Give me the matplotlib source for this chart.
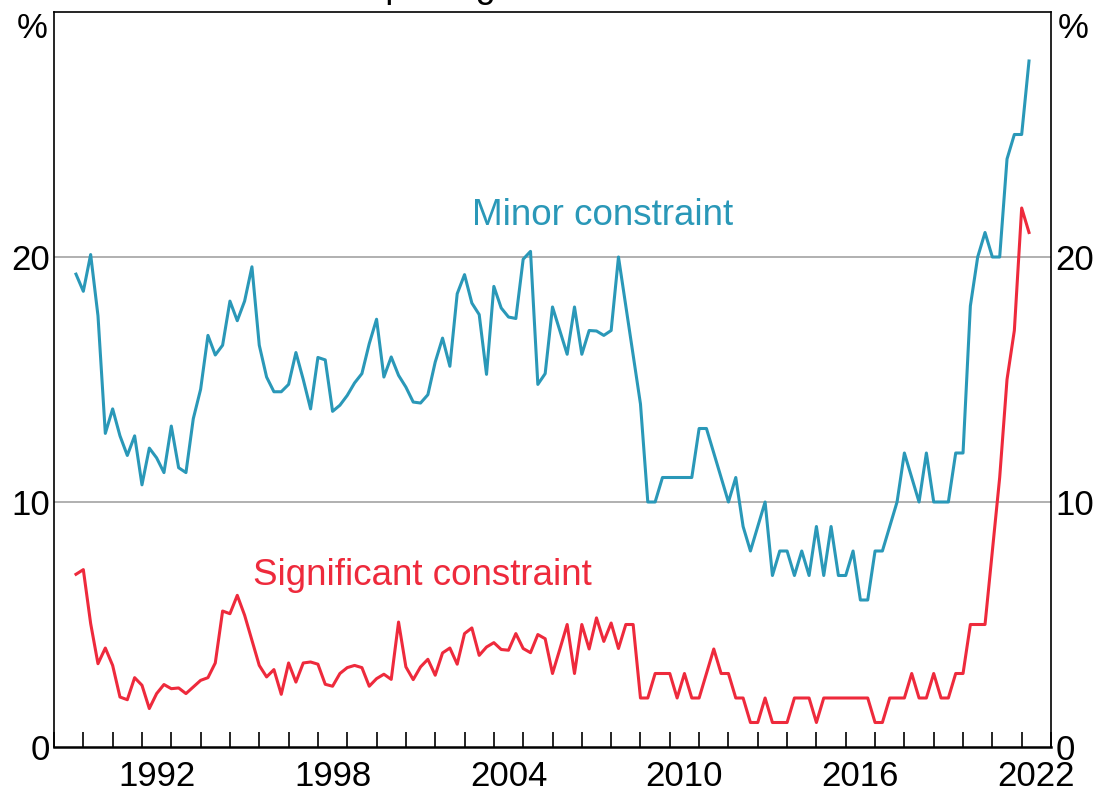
import matplotlib
matplotlib.use("Agg")
import matplotlib.pyplot as plt
import numpy as np

plt.rcParams['font.family'] = ['Liberation Sans', 'DejaVu Sans']

# quarterly observations, first one is Sep quarter 1989
start_year = 1989.75
minor = [19.3, 18.6, 20.1, 17.6, 12.8, 13.8, 12.7, 11.9, 12.7, 10.7,
         12.2, 11.8, 11.2, 13.1, 11.4, 11.2, 13.4, 14.6, 16.8, 16.0,
         16.4, 18.2, 17.4, 18.2, 19.6, 16.4, 15.1, 14.5, 14.5, 14.8,
         16.1, 15.0, 13.8, 15.9, 15.8, 13.7, 13.95, 14.35, 14.86, 15.24,
         16.46, 17.46, 15.1, 15.92, 15.17, 14.69, 14.08, 14.04, 14.38, 15.71,
         16.69, 15.54, 18.5, 19.28, 18.12, 17.65, 15.21, 18.8, 17.92, 17.55,
         17.49, 19.91, 20.23, 14.8, 15.24, 17.96, 17.0, 16.03, 17.96, 16.03,
         17.0, 16.98, 16.8, 17.0, 20.0, 18.0, 16.0, 14.0, 10.0, 10.0,
         11.0, 11.0, 11.0, 11.0, 11.0, 13.0, 13.0, 12.0, 11.0, 10.0,
         11.0, 9.0, 8.0, 9.0, 10.0, 7.0, 8.0, 8.0, 7.0, 8.0,
         7.0, 9.0, 7.0, 9.0, 7.0, 7.0, 8.0, 6.0, 6.0, 8.0,
         8.0, 9.0, 10.0, 12.0, 11.0, 10.0, 12.0, 10.0, 10.0, 10.0,
         12.0, 12.0, 18.0, 20.0, 21.0, 20.0, 20.0, 24.0, 25.0, 25.0,
         28.0]
significant = [7.05, 7.24, 5.04, 3.4, 4.04, 3.33, 2.04, 1.93, 2.83, 2.52,
               1.57, 2.18, 2.55, 2.38, 2.41, 2.18, 2.45, 2.72, 2.83, 3.43,
               5.55, 5.44, 6.19, 5.38, 4.36, 3.33, 2.86, 3.16, 2.15, 3.43,
               2.65, 3.43, 3.47, 3.38, 2.56, 2.48, 3.0, 3.24, 3.33, 3.24,
               2.48, 2.79, 2.97, 2.76, 5.1, 3.27, 2.75, 3.27, 3.58, 2.93,
               3.84, 4.04, 3.38, 4.63, 4.86, 3.74, 4.08, 4.26, 3.98, 3.95,
               4.63, 4.02, 3.85, 4.59, 4.42, 3.0, 3.99, 5.0, 3.0, 5.0,
               4.0, 5.27, 4.31, 5.06, 4.02, 5.0, 5.0, 2.0, 2.0, 3.0,
               3.0, 3.0, 2.0, 3.0, 2.0, 2.0, 3.0, 4.0, 3.0, 3.0,
               2.0, 2.0, 1.0, 1.0, 2.0, 1.0, 1.0, 1.0, 2.0, 2.0,
               2.0, 1.0, 2.0, 2.0, 2.0, 2.0, 2.0, 2.0, 2.0, 1.0,
               1.0, 2.0, 2.0, 2.0, 3.0, 2.0, 2.0, 3.0, 2.0, 2.0,
               3.0, 3.0, 5.0, 5.0, 5.0, 8.0, 11.0, 15.0, 17.0, 22.0,
               21.0]
year_labels = [1992, 1998, 2004, 2010, 2016, 2022]

dates = start_year + 0.25 * np.arange(len(minor))

teal = '#2a98b8'
red = '#ee2a3c'

fig = plt.figure(figsize=(10.99, 8.01), dpi=100)
ax = fig.add_axes([54 / 1099, 1 - 747 / 801, 997 / 1099, 735 / 801])

ax.plot(dates, minor, color=teal, lw=2.2, zorder=3)
ax.plot(dates, significant, color=red, lw=2.2, zorder=3)

ax.set_xlim(1989, 2023)
ax.set_ylim(0, 30)

# grid lines at 10 and 20
for v in (10, 20):
    ax.axhline(v, color='#b0b0b0', lw=1.4, zorder=1)

# year ticks as minor marks, labels centred in the year
ax.set_xticks(np.arange(1989, 2024), minor=True)
ax.set_xticks([y + 0.5 for y in year_labels])
ax.set_xticklabels([str(y) for y in year_labels])
ax.tick_params(axis='x', which='minor', direction='in', length=10.5, width=1.2, color='black')
ax.tick_params(axis='x', which='major', length=0, pad=9, labelsize=25)

ax.set_yticks([0, 10, 20])
ax.set_yticklabels(['0', '10', '20'])
ax.tick_params(axis='y', which='both', length=0, pad=3, labelsize=25,
               left=True, right=True, labelleft=True, labelright=True)

for s in ['left', 'right', 'top']:
    ax.spines[s].set_linewidth(1.2)
ax.spines['bottom'].set_linewidth(1.8)

fig.text(48 / 1099, 1 - 29 / 801, '%', ha='right', va='center', fontsize=25)
fig.text(1058 / 1099, 1 - 29 / 801, '%', ha='left', va='center', fontsize=25)

ax.text(2007.72, 21.7, 'Minor constraint', color=teal, fontsize=26.5, ha='center', va='center')
ax.text(2001.55, 7.0, 'Significant constraint', color=red, fontsize=26.5, ha='center', va='center')

# title sits mostly above the visible canvas
fig.text(552 / 1099, 1.004, 'Firms reporting labour as a constraint', ha='center',
         va='baseline', fontsize=26)

fig.savefig('out.png', dpi=100)
